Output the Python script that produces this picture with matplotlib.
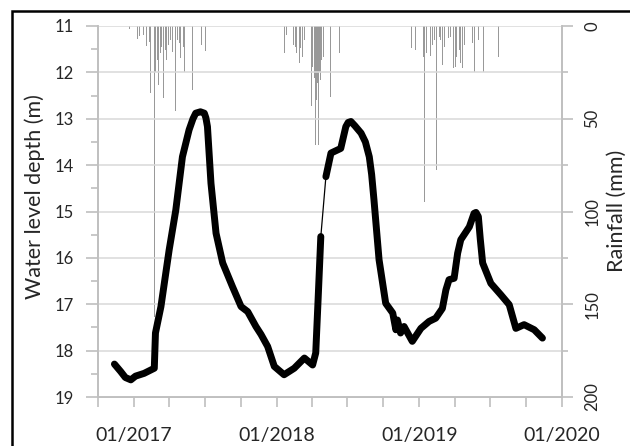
import matplotlib
matplotlib.use("Agg")
import matplotlib.pyplot as plt
import matplotlib.dates as mdates
from matplotlib.patches import Rectangle
import matplotlib.ticker as mticker
import pandas as pd

# groundwater level (depth below surface, m)
level_dates = ["2016-11-12", "2016-11-28", "2016-12-10", "2016-12-24", "2017-01-05",
               "2017-01-27", "2017-02-22", "2017-02-25", "2017-03-11", "2017-04-01",
               "2017-04-18", "2017-05-05", "2017-05-22", "2017-06-01", "2017-06-08",
               "2017-06-20", "2017-06-30", "2017-07-04", "2017-07-08", "2017-07-17",
               "2017-07-30", "2017-08-16", "2017-09-10", "2017-10-02", "2017-10-19",
               "2017-11-09", "2017-11-22", "2017-12-09", "2017-12-26", "2018-01-20",
               "2018-02-15", "2018-03-13", "2018-04-03", "2018-04-11", "2018-04-17",
               "2018-04-24", "2018-05-07", "2018-05-20", "2018-06-14", "2018-06-27",
               "2018-07-03", "2018-07-10", "2018-07-20", "2018-08-05", "2018-08-16",
               "2018-08-26", "2018-09-01", "2018-09-07", "2018-09-20", "2018-10-07",
               "2018-10-25", "2018-11-02", "2018-11-06", "2018-11-14", "2018-11-23",
               "2018-12-14", "2019-01-05", "2019-01-26", "2019-02-12", "2019-03-01",
               "2019-03-10", "2019-03-18", "2019-03-31", "2019-04-09", "2019-04-17",
               "2019-05-09", "2019-05-21", "2019-05-26", "2019-06-01", "2019-06-06",
               "2019-06-12", "2019-07-03", "2019-07-29", "2019-08-19", "2019-09-05",
               "2019-09-26", "2019-10-22", "2019-11-12"]
level_m = [18.29, 18.45, 18.58, 18.63, 18.55,
           18.49, 18.38, 17.62, 17.05, 15.83,
           14.97, 13.82, 13.24, 13.00, 12.88,
           12.85, 12.88, 12.98, 13.17, 14.39,
           15.47, 16.11, 16.62, 17.05, 17.16,
           17.48, 17.65, 17.91, 18.34, 18.52,
           18.38, 18.16, 18.31, 18.05, 16.91,
           15.54, 14.25, 13.74, 13.64, 13.17,
           13.08, 13.06, 13.15, 13.31, 13.50,
           13.82, 14.20, 14.75, 16.04, 16.98,
           17.19, 17.55, 17.34, 17.62, 17.48,
           17.80, 17.52, 17.37, 17.30, 17.09,
           16.69, 16.47, 16.44, 15.90, 15.61,
           15.33, 15.04, 15.02, 15.11, 15.60,
           16.11, 16.55, 16.80, 17.01, 17.52,
           17.44, 17.55, 17.73]
gap_start = "2018-04-24"   # logger gap, only a thin connecting line
gap_end = "2018-05-07"

# daily rainfall (mm)
rain_dates = ["2016-12-20", "2017-01-10", "2017-01-15", "2017-01-26", "2017-02-02",
              "2017-02-09", "2017-02-13", "2017-02-22", "2017-02-25", "2017-03-01",
              "2017-03-05", "2017-03-09", "2017-03-13", "2017-03-17", "2017-03-22",
              "2017-03-26", "2017-03-31", "2017-04-05", "2017-04-10", "2017-04-17",
              "2017-04-23", "2017-04-27", "2017-05-01", "2017-05-07", "2017-05-11",
              "2017-05-31", "2017-06-24", "2017-07-04",
              "2018-01-20", "2018-01-27", "2018-02-12", "2018-02-18", "2018-02-22",
              "2018-02-28", "2018-03-04", "2018-03-08", "2018-03-13", "2018-03-30",
              "2018-04-01", "2018-04-03", "2018-04-07", "2018-04-11", "2018-04-13",
              "2018-04-16", "2018-04-18", "2018-04-20", "2018-04-22", "2018-04-27",
              "2018-05-01", "2018-05-20", "2018-06-10",
              "2018-12-12", "2018-12-23", "2019-01-12", "2019-01-15", "2019-01-20",
              "2019-01-29", "2019-02-04", "2019-02-10", "2019-02-15", "2019-02-21",
              "2019-02-25", "2019-03-01", "2019-03-06", "2019-03-16", "2019-03-23",
              "2019-03-30", "2019-04-03", "2019-04-07", "2019-04-13", "2019-04-17",
              "2019-04-22", "2019-04-26", "2019-05-03", "2019-05-17", "2019-05-23",
              "2019-06-02", "2019-06-14", "2019-07-23"]
rain_mm = [1.8, 7.2, 5.4, 4.9, 10.8,
           8.5, 36.0, 157.0, 24.6, 18.3,
           31.8, 14.7, 11.1, 39.0, 12.9,
           18.3, 10.2, 7.5, 13.8, 45.6,
           7.5, 9.3, 17.4, 11.1, 24.6,
           34.5, 10.2, 13.3,
           14.7, 4.9, 10.2, 11.1, 14.7,
           19.8, 12.0, 16.9, 7.5, 43.1,
           35.0, 21.9, 28.2, 64.2, 40.0,
           30.9, 64.0, 25.0, 29.1, 18.3,
           16.5, 38.1, 14.4,
           12.0, 12.9, 16.5, 94.7, 14.7,
           16.2, 10.2, 7.5, 77.6, 5.7,
           7.5, 21.0, 11.1, 6.6, 5.7,
           22.8, 21.9, 16.5, 12.9, 20.1,
           22.8, 10.2, 9.0, 9.3, 24.6,
           7.5, 24.6, 16.9]

dates = pd.to_datetime(level_dates)
rdates = pd.to_datetime(rain_dates)
i0 = level_dates.index(gap_start)
i1 = level_dates.index(gap_end)

plt.rcParams['font.family'] = ['Lato', 'DejaVu Sans']
grid_c = '#d9d9d9'
axis_c = '#bfbfbf'
txt_c = '#262626'

fig = plt.figure(figsize=(6.3, 4.46), dpi=100)
ax = fig.add_axes([98 / 630, 1 - 397 / 446, (562 - 98) / 630, (397 - 26) / 446])
ax2 = ax.twinx()

# rainfall hanging from the top
ax2.bar(rdates, rain_mm, width=2.5, color='#999999', linewidth=0, zorder=1)
ax2.set_ylim(200, 0)
ax2.set_yticks([0, 50, 100, 150, 200])
ax2.yaxis.set_minor_locator(mticker.MultipleLocator(25))
ax2.tick_params(axis='y', which='major', length=8, width=1.2, color=axis_c,
                labelsize=12, labelcolor=txt_c, labelrotation=90, pad=8)
ax2.tick_params(axis='y', which='minor', length=4.5, width=1.2, color=axis_c)
for lab in ax2.get_yticklabels():
    lab.set_va('center')

# water level line (primary axis, kept in front of the bars)
ax.set_zorder(ax2.get_zorder() + 1)
ax.patch.set_visible(False)
ax.plot(dates, level_m, color='black', lw=0.9, zorder=3)
ax.plot(dates[:i0 + 1], level_m[:i0 + 1], color='black', lw=5,
        solid_capstyle='round', solid_joinstyle='round', zorder=4)
ax.plot(dates[i1:], level_m[i1:], color='black', lw=5,
        solid_capstyle='round', solid_joinstyle='round', zorder=4)

ax.set_ylim(19, 11)
ax.set_yticks(range(11, 20))
ax.yaxis.set_minor_locator(mticker.MultipleLocator(0.5))
ax.grid(axis='y', which='major', color=grid_c, lw=1.1)
ax.set_axisbelow(True)

ax.set_xlim(pd.Timestamp("2016-10-01"), pd.Timestamp("2020-01-01"))
ax.xaxis.set_major_locator(mdates.MonthLocator(bymonth=[1, 4, 7, 10]))
ax.xaxis.set_major_formatter(mticker.FuncFormatter(
    lambda v, p: mdates.num2date(v).strftime('%m/%Y') if mdates.num2date(v).month == 1 else ''))

ax.tick_params(axis='y', which='major', length=8.5, width=1.2, color=axis_c,
               labelsize=12, labelcolor=txt_c, pad=9)
ax.tick_params(axis='y', which='minor', length=5, width=1.2, color=axis_c)
ax.tick_params(axis='x', length=7.5, width=1.2, color=axis_c,
               labelsize=14, labelcolor=txt_c, pad=14)

for a in (ax, ax2):
    a.spines['top'].set_visible(False)
    for s in ('left', 'right', 'bottom'):
        a.spines[s].set_color(axis_c)
        a.spines[s].set_linewidth(1.2)

ax.set_ylabel('Water level depth (m)', fontsize=15.5, color=txt_c)
ax.yaxis.set_label_coords(-(98 - 45) / 464, (397 - 197) / 371)
fig.text(617 / 630, 1 - 211 / 446, 'Rainfall (mm)', rotation=90, fontsize=15.5,
         color=txt_c, ha='center', va='center')

# chart border
fig.patches.append(Rectangle((12 / 630, -0.2), 2, 1.2 - 11 / 446, transform=fig.transFigure,
                             fill=False, ec='black', lw=1.8))

fig.savefig('out.png', dpi=100)
